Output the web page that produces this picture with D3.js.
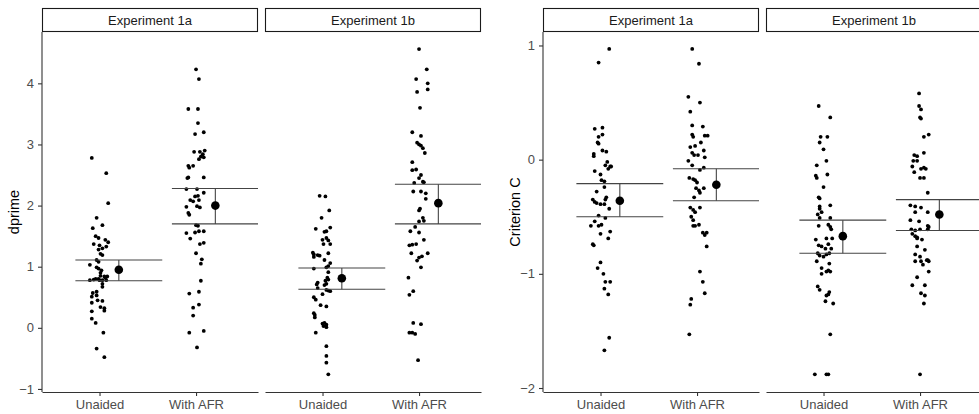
<!DOCTYPE html>
<html><head><meta charset="utf-8">
<script src="https://cdn.jsdelivr.net/npm/d3@7"></script>
<style>body{margin:0;background:#fff}svg{display:block}text{font-family:"Liberation Sans",Arial,sans-serif}</style>
</head><body><svg id="c" width="979" height="414"></svg>
<script>
const categories = ["Unaided", "With AFR"];
const experiments = ["Experiment 1a", "Experiment 1b"];
const dprimeTicks = [-1, 0, 1, 2, 3, 4];
const critTicks = [-2, -1, 0, 1];

// d' values (jitter = horizontal jitter, category units)
const dprime1aUnaided = [2.78,2.53,2.04,1.80,1.68,1.63,1.50,1.47,1.44,1.40,1.37,1.35,1.33,1.28,1.30,1.21,1.19,1.11,1.08,1.03,0.99,0.97,0.94,0.90,0.85,0.84,0.82,0.84,0.78,0.79,0.80,0.80,0.78,0.78,0.78,0.72,0.67,0.57,0.59,0.51,0.53,0.41,0.45,0.44,0.34,0.32,0.28,0.27,0.15,0.08,-0.08,-0.34,-0.48];
const dprime1aUnaidedJitter = [-0.08,0.07,0.09,-0.03,0.03,-0.07,-0.04,-0.01,0.06,0.09,-0.06,0.00,0.07,-0.01,0.03,0.01,0.03,-0.03,-0.01,-0.10,-0.03,-0.01,0.02,0.01,0.01,0.05,0.06,0.08,-0.10,-0.06,-0.04,-0.01,0.00,0.03,0.07,0.03,0.03,-0.07,-0.03,-0.08,-0.03,-0.08,-0.02,0.03,0.01,0.05,0.05,-0.08,-0.08,-0.04,0.04,-0.03,0.05];
const dprime1aAFR = [4.23,4.07,3.58,3.58,3.35,3.17,3.20,2.88,2.88,2.90,2.84,2.80,2.79,2.76,2.65,2.65,2.62,2.46,2.45,2.46,2.27,2.27,2.21,2.15,2.16,2.09,2.07,2.09,1.98,1.99,1.97,1.88,1.85,1.68,1.67,1.55,1.56,1.58,1.58,1.46,1.37,1.39,1.22,1.12,1.05,0.77,0.56,0.59,0.38,0.33,0.20,-0.08,-0.05,-0.32];
const dprime1aAFRJitter = [0.00,0.03,-0.08,0.02,0.02,-0.01,0.08,-0.02,0.04,0.09,0.07,0.05,0.08,0.03,-0.08,-0.03,-0.07,-0.08,-0.09,0.08,-0.10,0.01,0.08,-0.01,0.02,-0.06,-0.03,0.03,-0.10,0.01,0.04,-0.08,-0.07,0.00,0.02,-0.10,-0.01,0.03,0.08,-0.06,0.04,0.08,0.00,0.06,0.05,0.05,-0.07,0.03,0.03,-0.03,-0.03,-0.07,0.08,0.01];
const dprime1bUnaided = [2.16,2.15,1.92,1.80,1.62,1.64,1.57,1.58,1.47,1.44,1.43,1.37,1.37,1.23,1.20,1.16,1.19,1.18,1.22,1.11,1.06,1.01,0.99,0.97,0.91,0.82,0.79,0.77,0.74,0.71,0.70,0.72,0.65,0.62,0.61,0.60,0.55,0.50,0.46,0.37,0.35,0.24,0.21,0.17,0.07,0.08,0.05,0.01,0.03,-0.08,-0.30,-0.46,-0.57,-0.76];
const dprime1bUnaidedJitter = [-0.03,0.03,0.07,-0.01,-0.07,0.08,0.02,0.04,0.04,0.00,0.06,0.01,0.08,-0.10,-0.09,-0.09,-0.05,-0.03,0.06,0.02,0.08,0.06,0.04,-0.09,0.06,0.05,0.06,0.03,-0.05,-0.06,0.02,0.04,-0.05,0.04,0.06,0.08,0.00,-0.09,-0.07,-0.02,0.04,-0.09,-0.08,-0.08,0.00,0.02,0.04,0.04,0.01,-0.07,0.04,0.04,0.04,0.06];
const dprime1bAFR = [4.56,4.23,4.07,4.00,3.90,3.86,3.60,3.20,3.14,3.03,3.00,2.98,2.94,2.86,2.71,2.58,2.59,2.50,2.45,2.39,2.37,2.38,2.23,2.23,2.20,2.11,1.95,1.92,1.80,1.75,1.74,1.65,1.58,1.56,1.44,1.35,1.36,1.37,1.22,1.22,1.17,1.15,1.10,0.99,0.82,0.60,0.54,0.08,0.06,-0.08,-0.08,-0.10,-0.53];
const dprime1bAFRJitter = [0.00,0.08,-0.03,0.09,0.09,-0.02,0.01,-0.07,0.02,-0.02,0.00,0.02,0.04,0.06,-0.07,-0.07,-0.03,0.02,0.00,0.04,-0.05,0.05,-0.06,0.02,0.07,0.07,0.01,0.00,0.04,0.05,0.00,-0.04,-0.09,0.00,0.05,-0.10,-0.07,-0.03,-0.08,0.09,0.03,0.00,-0.02,0.02,-0.11,-0.06,-0.10,-0.06,0.02,-0.10,-0.07,-0.04,-0.01];

// Criterion C values
const crit1aUnaided = [0.97,0.85,0.27,0.28,0.22,0.20,0.15,0.14,0.08,0.07,0.05,0.03,-0.02,-0.06,-0.08,-0.06,-0.05,-0.10,-0.13,-0.18,-0.19,-0.24,-0.28,-0.33,-0.35,-0.35,-0.37,-0.38,-0.39,-0.39,-0.43,-0.49,-0.51,-0.54,-0.58,-0.58,-0.57,-0.65,-0.63,-0.69,-0.74,-0.75,-0.90,-0.95,-1.00,-1.07,-1.07,-1.13,-1.18,-1.56,-1.67];
const crit1aUnaidedJitter = [0.09,-0.02,-0.06,0.02,0.02,-0.02,-0.03,-0.02,0.02,0.06,-0.07,-0.07,0.07,0.10,0.08,0.11,0.05,-0.06,0.00,0.01,0.04,0.04,-0.04,0.06,0.05,-0.08,-0.06,-0.04,0.00,0.04,0.09,-0.02,0.05,-0.06,-0.10,-0.02,0.01,0.00,0.10,0.08,-0.08,-0.07,0.00,-0.03,0.03,0.05,0.10,0.04,0.08,0.09,0.04];
const crit1aAFR = [0.97,0.84,0.55,0.50,0.42,0.30,0.29,0.22,0.20,0.21,0.21,0.15,0.11,0.12,0.08,0.06,0.04,0.04,0.02,-0.01,-0.05,-0.07,-0.09,-0.16,-0.17,-0.18,-0.20,-0.25,-0.29,-0.25,-0.27,-0.33,-0.42,-0.44,-0.46,-0.42,-0.50,-0.53,-0.58,-0.58,-0.57,-0.64,-0.66,-0.64,-0.76,-0.98,-1.07,-1.17,-1.22,-1.27,-1.53];
const crit1aAFRJitter = [-0.05,0.02,-0.09,0.03,-0.07,-0.05,0.06,-0.05,-0.04,0.08,0.11,0.04,-0.07,-0.02,0.07,-0.05,-0.03,0.01,0.08,-0.09,-0.05,0.07,0.03,-0.08,-0.04,-0.02,0.00,-0.01,0.03,0.07,0.02,-0.03,-0.07,-0.04,-0.02,0.03,-0.06,-0.04,-0.04,-0.02,0.02,0.06,0.08,0.10,0.10,0.03,0.06,0.08,-0.06,-0.07,-0.08];
const crit1bUnaided = [0.47,0.37,0.20,0.20,0.15,0.09,-0.01,-0.05,-0.14,-0.16,-0.13,-0.24,-0.33,-0.34,-0.40,-0.41,-0.43,-0.46,-0.48,-0.51,-0.51,-0.58,-0.57,-0.59,-0.61,-0.70,-0.69,-0.69,-0.75,-0.76,-0.74,-0.78,-0.78,-0.82,-0.84,-0.85,-0.83,-0.82,-0.89,-0.91,-0.95,-1.00,-0.98,-0.97,-0.98,-1.11,-1.14,-1.19,-1.18,-1.16,-1.24,-1.26,-1.53,-1.88,-1.88,-1.88];
const crit1bUnaidedJitter = [-0.05,0.07,-0.03,0.04,-0.04,0.00,0.03,-0.07,-0.08,-0.07,0.04,0.00,-0.05,-0.04,0.07,-0.04,-0.04,-0.02,-0.06,-0.04,0.07,-0.05,0.05,0.07,0.08,-0.08,0.03,0.09,-0.05,-0.02,0.05,0.08,0.02,-0.06,-0.04,0.00,0.03,0.06,-0.07,0.06,-0.02,-0.02,0.03,0.05,0.07,-0.06,-0.04,0.03,0.05,0.06,0.02,0.10,0.07,-0.09,0.03,0.05];
const crit1bAFR = [0.58,0.47,0.44,0.37,0.36,0.20,0.22,0.04,0.03,0.06,-0.01,-0.01,-0.06,-0.08,-0.07,-0.08,-0.11,-0.16,-0.16,-0.29,-0.40,-0.41,-0.42,-0.46,-0.46,-0.53,-0.54,-0.58,-0.59,-0.61,-0.61,-0.62,-0.61,-0.65,-0.67,-0.68,-0.70,-0.69,-0.76,-0.79,-0.83,-0.85,-0.88,-0.89,-0.88,-0.89,-0.89,-0.92,-0.98,-1.03,-1.10,-1.10,-1.17,-1.19,-1.26,-1.88];
const crit1bAFRJitter = [-0.01,-0.01,0.01,0.00,0.01,0.04,0.09,-0.06,-0.03,0.04,-0.07,-0.03,-0.08,0.01,0.04,0.06,-0.06,0.00,0.04,0.08,-0.10,-0.05,0.01,-0.05,0.08,-0.10,-0.01,0.08,0.09,0.08,-0.09,-0.05,0.00,-0.08,-0.05,-0.03,0.02,-0.03,-0.03,0.05,-0.05,0.00,0.07,0.09,0.08,0.01,-0.05,0.03,0.09,-0.03,-0.08,0.05,0.01,0.05,0.04,0.00];

// summary (mean, 95% CI) per [experiment][condition]
const dprimeMean = [[0.95, 2.00], [0.81, 2.04]];
const dprimeLow  = [[0.77, 1.70], [0.63, 1.70]];
const dprimeHigh = [[1.11, 2.28], [0.98, 2.35]];
const critMean = [[-0.36, -0.22], [-0.67, -0.48]];
const critLow  = [[-0.50, -0.36], [-0.82, -0.62]];
const critHigh = [[-0.21, -0.08], [-0.53, -0.35]];

const svg = d3.select("#c");
svg.append("rect").attr("width", 979).attr("height", 414).attr("fill", "#fff");

const TOP = 32, BOTTOM = 392, FW = 216, STRIP_TOP = 8;

function styleAxis(g) {
  g.selectAll("path.domain").attr("stroke", "#333").attr("stroke-width", 1.1);
  g.selectAll(".tick line").attr("stroke", "#333").attr("stroke-width", 1.1);
  g.selectAll(".tick text").attr("fill", "#4d4d4d").attr("font-size", 13)
    .attr("font-family", '"Liberation Sans", Arial, sans-serif');
}

function drawChart(o) {
  const y = d3.scaleLinear().domain(o.yDomain).range([BOTTOM, TOP]);
  const ga = svg.append("g").attr("transform", `translate(${o.lefts[0]},0)`)
    .call(d3.axisLeft(y).tickValues(o.ticks).tickFormat(d3.format("d")).tickSize(4).tickPadding(4).tickSizeOuter(0));
  ga.select("path.domain").remove();
  ga.append("line").attr("x1", 0).attr("x2", 0).attr("y1", TOP).attr("y2", BOTTOM).attr("stroke", "#333").attr("stroke-width", 1.1);
  styleAxis(ga);
  ga.selectAll(".tick text").attr("font-size", 13);

  svg.append("text").attr("transform", `translate(${o.titleX},${(TOP + BOTTOM) / 2}) rotate(-90)`)
    .attr("text-anchor", "middle").attr("font-size", 14.5).attr("fill", "#000").text(o.title);

  o.lefts.forEach((left, fi) => {
    const x = d3.scaleLinear().domain([0.404, 2.642]).range([left, left + FW]);
    const gx = svg.append("g").attr("transform", `translate(0,${BOTTOM})`)
      .call(d3.axisBottom(x).tickValues([1, 2]).tickFormat((d) => categories[d - 1]).tickSize(4).tickPadding(3.5).tickSizeOuter(0));
    styleAxis(gx);

    // strip
    svg.append("rect").attr("x", left + 0.5).attr("y", STRIP_TOP + 0.5).attr("width", FW - 1).attr("height", TOP - STRIP_TOP - 1)
      .attr("fill", "#fff").attr("stroke", "#1a1a1a").attr("stroke-width", 1.1);
    svg.append("text").attr("x", left + FW / 2).attr("y", 25).attr("text-anchor", "middle")
      .attr("font-size", 13).attr("fill", "#1a1a1a").text(experiments[fi]);

    const g = svg.append("g");
    categories.forEach((cat, ci) => {
      const vals = o.values[fi][ci], jit = o.jitter[fi][ci];
      g.selectAll(null).data(vals).enter().append("circle")
        .attr("cx", (d, i) => x(ci + 1 + (jit[i] || 0)))
        .attr("cy", d => y(d)).attr("r", 1.9).attr("fill", "#000");
      const cx = ci + 1 + 0.2;
      const lo = o.low[fi][ci], hi = o.high[fi][ci], m = o.mean[fi][ci];
      [lo, hi].forEach(v => {
        g.append("line").attr("x1", x(cx - 0.45)).attr("x2", Math.min(x(cx + 0.45), left + FW))
          .attr("y1", y(v)).attr("y2", y(v)).attr("stroke", "#444").attr("stroke-width", 1.1);
      });
      g.append("line").attr("x1", x(cx)).attr("x2", x(cx)).attr("y1", y(lo)).attr("y2", y(hi))
        .attr("stroke", "#444").attr("stroke-width", 1.1);
      g.append("circle").attr("cx", x(cx)).attr("cy", y(m)).attr("r", 4.3).attr("fill", "#000");
    });
  });
}

drawChart({
  lefts: [42, 265], yDomain: [-1.05, 4.84], ticks: dprimeTicks, title: "dprime", titleX: 19,
  values: [[dprime1aUnaided, dprime1aAFR], [dprime1bUnaided, dprime1bAFR]],
  jitter: [[dprime1aUnaidedJitter, dprime1aAFRJitter], [dprime1bUnaidedJitter, dprime1bAFRJitter]],
  mean: dprimeMean, low: dprimeLow, high: dprimeHigh
});
drawChart({
  lefts: [543, 766], yDomain: [-2.035, 1.118], ticks: critTicks, title: "Criterion C", titleX: 520,
  values: [[crit1aUnaided, crit1aAFR], [crit1bUnaided, crit1bAFR]],
  jitter: [[crit1aUnaidedJitter, crit1aAFRJitter], [crit1bUnaidedJitter, crit1bAFRJitter]],
  mean: critMean, low: critLow, high: critHigh
});
</script>
</body></html>
